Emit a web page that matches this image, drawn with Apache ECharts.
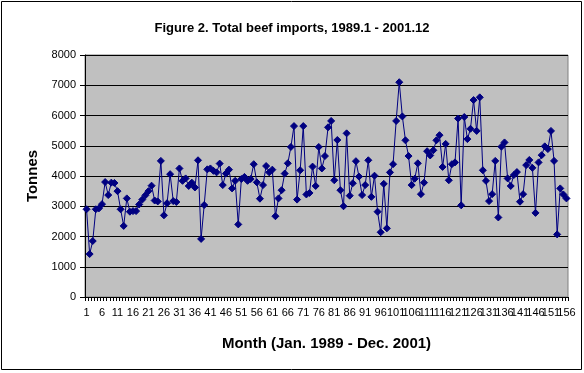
<!DOCTYPE html>
<html>
<head>
<meta charset="utf-8">
<script src="https://cdn.jsdelivr.net/npm/echarts@6/dist/echarts.min.js"></script>
<style>
html,body{margin:0;padding:0;background:#fff;}
#chart{width:584px;height:373px;}
</style>
</head>
<body>
<div id="chart"></div>
<script>
// Monthly total beef imports (tonnes), month 1 = Jan 1989 ... month 156 = Dec 2001
const imports1989_1993 = [
  2900, 1420, 1850, 2900, 2930, 3070, 3800, 3370, 3780, 3770, 3500, 2900,
  2350, 3260, 2820, 2840, 2840, 3060, 3220, 3360, 3500, 3680, 3190, 3160,
  4500, 2700, 3100, 4060, 3170, 3140, 4250, 3840, 3920, 3670, 3780, 3620,
  4520, 1920, 3040, 4220, 4250, 4170, 4120, 4410, 3700, 4080, 4210, 3590,
  3840, 2400, 3900, 3970, 3840, 3900, 4390, 3790, 3250, 3700, 4330, 4120
];
const imports1994_1997 = [
  4210, 2670, 3260, 3530, 4080, 4420, 4960, 5650, 3220, 4190, 5650, 3390,
  3440, 4310, 3670, 4960, 4250, 4660, 5610, 5820, 3860, 5190, 3530, 3000,
  5410, 3350, 3760, 4490, 3980, 3370, 3700, 4520, 3310, 4010, 2820, 2140,
  3740, 2270, 4120, 4390, 5820, 7100, 5970, 5180, 4660, 3700, 3910, 4420
];
const imports1998_2001 = [
  3400, 3780, 4820, 4680, 4850, 5180, 5350, 4300, 5060, 3860, 4390, 4450,
  5900, 3030, 5950, 5220, 5560, 6510, 5490, 6600, 4190, 3840, 3170, 3400,
  4500, 2630, 4970, 5110, 3920, 3670, 4030, 4130, 3150, 3400, 4360, 4530,
  4270, 2780, 4450, 4690, 4980, 4890, 5490, 4500, 2070, 3590, 3390, 3260
];
const imports = imports1989_1993.concat(imports1994_1997, imports1998_2001);
const months = imports.map((_, i) => String(i + 1));
const labelStep = 5;
const yTicks = { min: 0, max: 8000, interval: 1000 };
const titleText = 'Figure 2. Total beef imports, 1989.1 - 2001.12';
const xName = 'Month (Jan. 1989 - Dec. 2001)';
const yName = 'Tonnes';

const FONT = '"Liberation Sans", Arial, sans-serif';
const labelStyle = { margin: 10, fontFamily: FONT, fontSize: 11, color: '#000', hideOverlap: false };
const chart = echarts.init(document.getElementById('chart'), null, { renderer: 'canvas' });
chart.setOption({
  animation: false,
  backgroundColor: '#ffffff',
  title: {
    text: titleText,
    left: 'center',
    top: 17,
    textStyle: { fontFamily: FONT, fontSize: 13, fontWeight: 'bold', color: '#000' }
  },
  graphic: [{
    type: 'rect',
    shape: { x: 1.5, y: 1.5, width: 580, height: 368 },
    style: { fill: 'none', stroke: '#000', lineWidth: 1 },
    silent: true
  }],
  grid: {
    left: 85, right: 16, top: 55, bottom: 76,
    show: true, backgroundColor: '#C0C0C0', borderColor: '#808080', borderWidth: 1
  },
  xAxis: [{
    // main axis: line, ticks, name and labels 1, 11, 21, ...
    type: 'category',
    data: months,
    position: 'bottom',
    boundaryGap: true,
    name: xName,
    nameLocation: 'middle',
    nameGap: 39,
    nameTextStyle: { fontFamily: FONT, fontSize: 15, fontWeight: 'bold', color: '#000' },
    axisLine: { show: true, lineStyle: { color: '#000', width: 1 } },
    axisTick: { show: true, interval: 0, length: 4, lineStyle: { color: '#000' } },
    axisLabel: Object.assign({ interval: (idx) => idx % (2 * labelStep) === 0 }, labelStyle),
    splitLine: { show: false }
  }, {
    // companion axis: labels 6, 16, 26, ... (same positions)
    type: 'category',
    data: months,
    position: 'bottom',
    offset: 0,
    boundaryGap: true,
    axisLine: { show: false },
    axisTick: { show: false },
    axisLabel: Object.assign({ interval: (idx) => idx % (2 * labelStep) === labelStep }, labelStyle),
    splitLine: { show: false }
  }],
  yAxis: {
    type: 'value',
    min: yTicks.min, max: yTicks.max, interval: yTicks.interval,
    name: yName,
    nameLocation: 'middle',
    nameGap: 45,
    nameRotate: 90,
    nameTextStyle: { fontFamily: FONT, fontSize: 15, fontWeight: 'bold', color: '#000' },
    axisLine: { show: true, lineStyle: { color: '#000', width: 1 } },
    axisTick: { show: true, length: 5, lineStyle: { color: '#000' } },
    axisLabel: { margin: 9, fontFamily: FONT, fontSize: 11, color: '#000', formatter: (v) => String(v) },
    splitLine: { show: true, lineStyle: { color: '#000', width: 1 } }
  },
  series: [{
    type: 'line',
    data: imports,
    xAxisIndex: 0,
    symbol: 'diamond',
    symbolSize: 7,
    showAllSymbol: true,
    lineStyle: { color: '#000080', width: 1 },
    itemStyle: { color: '#000080', borderColor: '#000080' }
  }]
});
</script>
</body>
</html>
